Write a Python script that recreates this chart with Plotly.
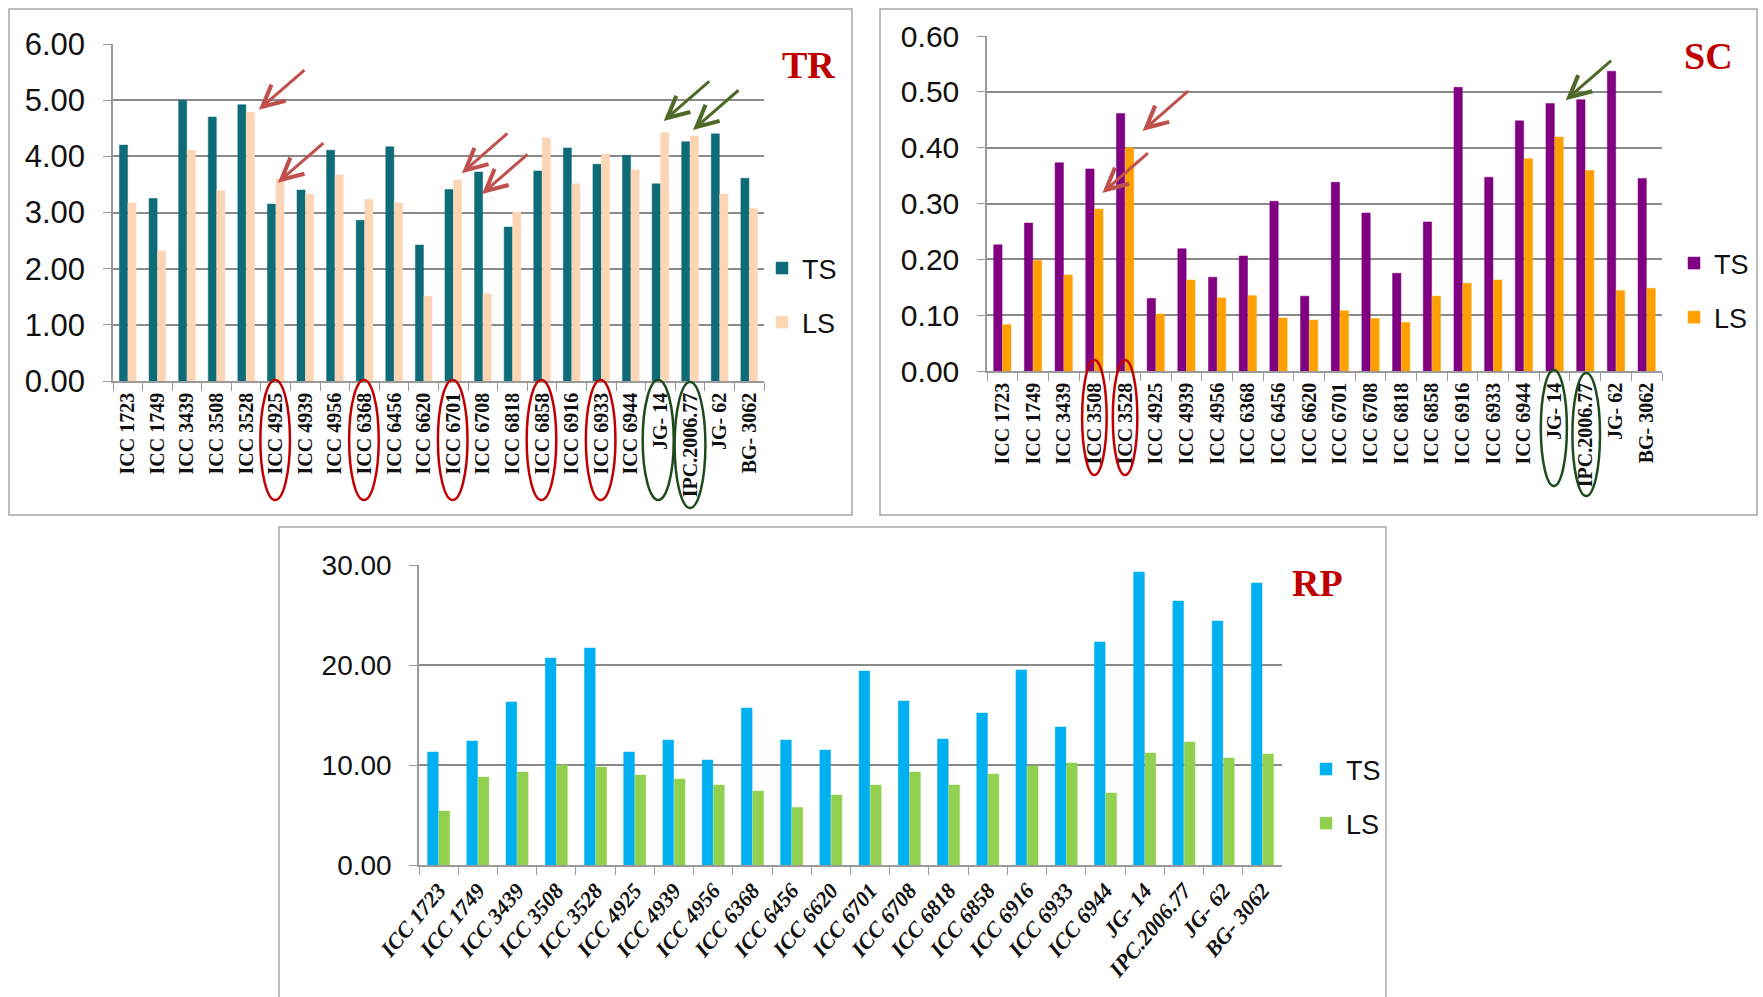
import plotly.graph_objects as go

W, H = 1763, 997

genotypes = ["ICC 1723", "ICC 1749", "ICC 3439", "ICC 3508", "ICC 3528", "ICC 4925",
             "ICC 4939", "ICC 4956", "ICC 6368", "ICC 6456", "ICC 6620", "ICC 6701",
             "ICC 6708", "ICC 6818", "ICC 6858", "ICC 6916", "ICC 6933", "ICC 6944",
             "JG- 14", "IPC.2006.77", "JG- 62", "BG- 3062"]

# TR: tolerant vs. sensitive
tr_ts = [4.20, 3.25, 5.00, 4.70, 4.92, 3.15, 3.40, 4.11, 2.86, 4.17, 2.42,
         3.41, 3.72, 2.74, 3.74, 4.15, 3.86, 4.02, 3.51, 4.26, 4.40, 3.61]
tr_ls = [3.17, 2.32, 4.11, 3.39, 4.78, 3.60, 3.33, 3.67, 3.23, 3.17, 1.51,
         3.58, 1.55, 3.01, 4.33, 3.51, 4.04, 3.76, 4.42, 4.36, 3.33, 3.07]

# SC
sc_ts = [0.226, 0.265, 0.373, 0.362, 0.461, 0.130, 0.219, 0.168, 0.206, 0.304, 0.134,
         0.338, 0.283, 0.175, 0.267, 0.508, 0.347, 0.448, 0.479, 0.486, 0.537, 0.345]
sc_ls = [0.083, 0.198, 0.172, 0.290, 0.400, 0.102, 0.163, 0.131, 0.135, 0.095, 0.091,
         0.108, 0.094, 0.087, 0.134, 0.157, 0.163, 0.380, 0.419, 0.359, 0.144, 0.148]

# RP
rp_ts = [11.3, 12.4, 16.3, 20.7, 21.7, 11.3, 12.5, 10.5, 15.7, 12.5, 11.5,
         19.4, 16.4, 12.6, 15.2, 19.5, 13.8, 22.3, 29.3, 26.4, 24.4, 28.2]
rp_ls = [5.4, 8.8, 9.3, 10.0, 9.8, 9.0, 8.6, 8.0, 7.4, 5.75, 7.0,
         8.0, 9.3, 8.0, 9.1, 9.9, 10.2, 7.2, 11.2, 12.3, 10.7, 11.1]

series_names = ["TS", "LS"]


def px_x(p):
    return p / W


def px_y(p):
    return 1 - p / H


GRID = "#8a8a8a"
AXIS = "#9a9a9a"
NARROW = "Liberation Sans Narrow, Arial Narrow, Liberation Sans, sans-serif"
SANS = "Liberation Sans, Arial, sans-serif"
SERIF = "Liberation Serif, Times New Roman, serif"

fig = go.Figure()

panels = [
    dict(ts=tr_ts, ls=tr_ls, c=("#0E6B78", "#FCD5B4"), rng=[0, 6], dt=1,
         xd=(113, 764), yd=(381, 44), ax="", leg="legend", tick=31,
         angle=-90, style="normal", lab=20),
    dict(ts=sc_ts, ls=sc_ls, c=("#7F0080", "#FFA000"), rng=[0, 0.6], dt=0.1,
         xd=(987, 1662), yd=(371, 36), ax="2", leg="legend2", tick=30,
         angle=-90, style="normal", lab=20),
    dict(ts=rp_ts, ls=rp_ls, c=("#00B0F0", "#92D050"), rng=[0, 30], dt=10,
         xd=(419, 1282), yd=(865, 565), ax="3", leg="legend3", tick=28,
         angle=-50, style="italic", lab=22),
]

for p in panels:
    for name, vals, col in zip(series_names, (p["ts"], p["ls"]), p["c"]):
        fig.add_trace(go.Bar(
            x=genotypes, y=vals, name=name, marker_color=col,
            marker_line=dict(color=col, width=0.5),
            xaxis="x" + p["ax"], yaxis="y" + p["ax"], legend=p["leg"],
            legendgroup=p["leg"] + name,
        ))
    xa = dict(
        domain=[px_x(p["xd"][0]), px_x(p["xd"][1])], anchor="y" + p["ax"],
        type="category", categoryorder="array", categoryarray=genotypes,
        showline=True, linecolor=AXIS, linewidth=1.5, ticks="outside",
        tickson="boundaries", ticklen=8, tickcolor=AXIS, showgrid=False,
        tickangle=p["angle"], automargin=False, ticklabelstandoff=2,
        tickfont=dict(family=SERIF, size=p["lab"], color="#111",
                      weight="bold", style=p["style"]),
    )
    ya = dict(
        domain=[px_y(p["yd"][0]), px_y(p["yd"][1])], anchor="x" + p["ax"],
        range=p["rng"], dtick=p["dt"], tickformat=".2f",
        showgrid=True, gridcolor=GRID, gridwidth=2, zeroline=False,
        showline=True, linecolor=AXIS, linewidth=1.5, ticks="outside",
        ticklen=8, tickcolor=AXIS, automargin=False, ticklabelstandoff=12,
        tickfont=dict(family=NARROW, size=p["tick"], color="#111"),
    )
    fig.layout["xaxis" + p["ax"]] = xa
    fig.layout["yaxis" + p["ax"]] = ya

fig.update_layout(
    width=W, height=H, margin=dict(l=0, r=0, t=0, b=0, pad=0, autoexpand=False),
    paper_bgcolor="white", plot_bgcolor="white",
    barmode="group", bargap=0.42, bargroupgap=0.06,
    showlegend=True,
)

legend_common = dict(font=dict(family=NARROW, size=27, color="#111"),
                     bgcolor="rgba(0,0,0,0)", tracegroupgap=16,
                     xanchor="left", yanchor="top", itemwidth=30)
fig.update_layout(
    legend=dict(x=px_x(762), y=px_y(244), **legend_common),
    legend2=dict(x=px_x(1674), y=px_y(239), **legend_common),
    legend3=dict(x=px_x(1306), y=px_y(745), **legend_common),
)

# panel frames
frames = [(9, 9, 852, 515), (880, 9, 1757, 515), (279, 527, 1386, 1000)]
shapes = []
for x0, y0, x1, y1 in frames:
    shapes.append(dict(type="rect", xref="paper", yref="paper",
                       x0=px_x(x0), x1=px_x(x1), y0=px_y(y1), y1=px_y(y0),
                       line=dict(color="#A6A6A6", width=1.5)))

RED = "#C00000"
DKGREEN = "#1E4B1E"

# highlighted genotype labels: (axis, category index, x offsets, top px, bottom px, colour)
ellipses = [
    ("x", 5, -0.52, 0.48, 380, 500, RED),
    ("x", 8, -0.52, 0.48, 380, 500, RED),
    ("x", 11, -0.52, 0.48, 380, 500, RED),
    ("x", 14, -0.52, 0.48, 380, 500, RED),
    ("x", 16, -0.52, 0.48, 380, 500, RED),
    ("x", 18, -0.6, 0.45, 380, 500, DKGREEN),
    ("x", 19, -0.52, 0.52, 382, 508, DKGREEN),
    ("x2", 3, -0.4, 0.4, 360, 475, RED),
    ("x2", 4, -0.4, 0.4, 360, 475, RED),
    ("x2", 18, -0.45, 0.4, 370, 486, DKGREEN),
    ("x2", 19, -0.42, 0.48, 373, 496, DKGREEN),
]
for xr, i, a, b, t, bt, col in ellipses:
    shapes.append(dict(type="circle", xref=xr, yref="paper",
                       x0=i + a, x1=i + b, y0=px_y(bt), y1=px_y(t),
                       line=dict(color=col, width=2.5)))
fig.update_layout(shapes=shapes)

ARROW_RED = "#C0504D"
ARROW_GREEN = "#4F6A28"
annotations = []
# arrows: (axis suffix, x index, y value, colour)
arrows = [
    ("", 4.43, 4.83, ARROW_RED), ("", 5.07, 3.53, ARROW_RED),
    ("", 11.29, 3.70, ARROW_RED), ("", 11.97, 3.33, ARROW_RED),
    ("", 18.11, 4.63, ARROW_GREEN), ("", 19.10, 4.47, ARROW_GREEN),
    ("2", 4.57, 0.430, ARROW_RED), ("2", 3.26, 0.319, ARROW_RED),
    ("2", 18.36, 0.485, ARROW_GREEN),
]
for ax, xi, yv, col in arrows:
    annotations.append(dict(
        x=xi, y=yv, xref="x" + ax, yref="y" + ax, text="", showarrow=True,
        ax=47, ay=-41, arrowhead=5, arrowsize=1.4, arrowwidth=3,
        arrowcolor=col, standoff=0,
    ))

titles = [("TR", 808, 65), ("SC", 1708, 56), ("RP", 1317, 583)]
for t, cx, cy in titles:
    annotations.append(dict(
        x=px_x(cx), y=px_y(cy), xref="paper", yref="paper", text=t,
        showarrow=False, xanchor="center", yanchor="middle",
        font=dict(family=SERIF, size=38, color="#C00000", weight="bold"),
    ))
fig.update_layout(annotations=annotations)

fig.write_html("out.html")
